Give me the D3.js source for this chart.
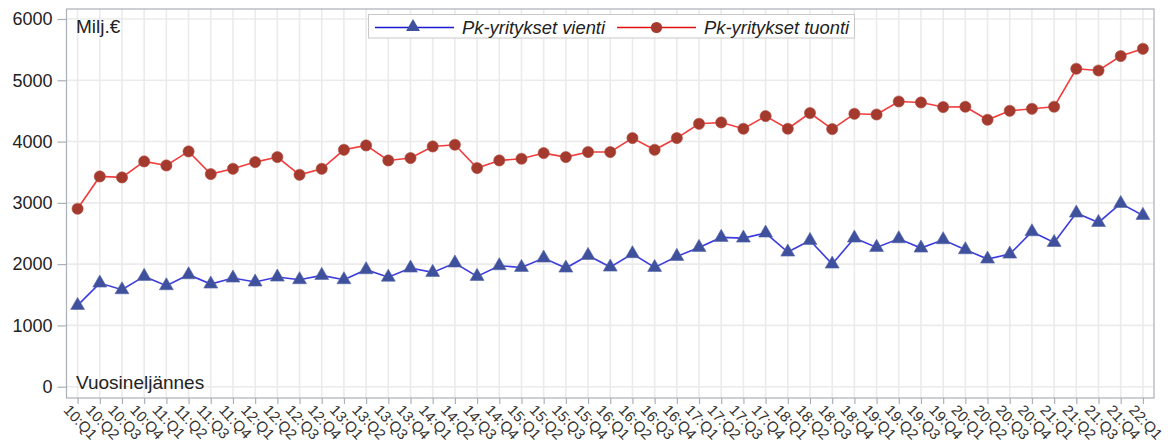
<!DOCTYPE html>
<html><head><meta charset="utf-8">
<script src="https://cdn.jsdelivr.net/npm/d3@7"></script>
<style>
body{margin:0;background:#fff;}
svg{display:block;font-family:"Liberation Sans",Arial,sans-serif;}
</style></head>
<body><svg id="c" width="1172" height="446"></svg>
<script>
const quarters = ["10:Q1","10:Q2","10:Q3","10:Q4","11:Q1","11:Q2","11:Q3","11:Q4","12:Q1","12:Q2","12:Q3","12:Q4","13:Q1","13:Q2","13:Q3","13:Q4","14:Q1","14:Q2","14:Q3","14:Q4","15:Q1","15:Q2","15:Q3","15:Q4","16:Q1","16:Q2","16:Q3","16:Q4","17:Q1","17:Q2","17:Q3","17:Q4","18:Q1","18:Q2","18:Q3","18:Q4","19:Q1","19:Q2","19:Q3","19:Q4","20:Q1","20:Q2","20:Q3","20:Q4","21:Q1","21:Q2","21:Q3","21:Q4","22:Q1"];
const vienti = [1326,1691,1582,1800,1648,1827,1675,1773,1708,1789,1746,1816,1746,1909,1787,1936,1865,2018,1800,1974,1946,2099,1936,2142,1952,2170,1946,2126,2273,2436,2425,2507,2197,2387,2001,2425,2273,2414,2262,2398,2235,2083,2164,2528,2354,2833,2680,2990,2795];
const tuonti = [2904,3431,3415,3676,3610,3839,3469,3556,3665,3747,3458,3556,3866,3937,3692,3731,3920,3948,3568,3692,3720,3812,3747,3829,3829,4057,3866,4057,4290,4312,4209,4415,4209,4465,4204,4453,4442,4654,4638,4563,4568,4356,4502,4535,4568,5188,5160,5395,5514];
const yTicks = [0,1000,2000,3000,4000,5000,6000];
const seriesNames = ["Pk-yritykset vienti","Pk-yritykset tuonti"];

const svg = d3.select("#c");
const L=66.5, R=1154, T=9, B=398;
const x = d3.scalePoint().domain(quarters).range([L,R]).padding(0.5);
const y = d3.scaleLinear().domain([0,6000]).range([386.7,19]);

// gridlines
const g = svg.append("g");
g.selectAll("line.v").data(quarters).enter().append("line")
  .attr("x1",d=>x(d)).attr("x2",d=>x(d)).attr("y1",T).attr("y2",B)
  .attr("stroke","#ebebeb").attr("stroke-width",1.6);
g.selectAll("line.h").data(yTicks).enter().append("line")
  .attr("x1",L).attr("x2",R).attr("y1",d=>y(d)).attr("y2",d=>y(d))
  .attr("stroke","#ebebeb").attr("stroke-width",1.6);

// frame
svg.append("rect").attr("x",L).attr("y",T).attr("width",R-L).attr("height",B-T)
  .attr("fill","none").attr("stroke","#aab0b6").attr("stroke-width",1.2);

// y axis
const ya = svg.append("g").attr("transform",`translate(${L},0)`)
  .call(d3.axisLeft(y).tickValues(yTicks).tickSize(9).tickPadding(5).tickFormat(d3.format("d")));
ya.select(".domain").remove();
ya.selectAll(".tick line").attr("stroke","#aab0b6").attr("stroke-width",1.2);
ya.selectAll(".tick text").attr("font-size","18px").attr("fill","#222").attr("font-family","Liberation Sans, Arial, sans-serif");

// x axis
const xa = svg.append("g").attr("transform",`translate(0,${B})`)
  .call(d3.axisBottom(x).tickSize(6).tickPadding(4));
xa.select(".domain").remove();
xa.selectAll(".tick line").attr("stroke","#aab0b6").attr("stroke-width",1.2);
xa.selectAll(".tick text").attr("font-size","15px").attr("fill","#333")
  .attr("font-family","Liberation Sans, Arial, sans-serif")
  .attr("text-anchor","start").attr("dy","0")
  .attr("transform","translate(-8,6) rotate(47)");

// labels
svg.append("text").attr("x",76).attr("y",33).attr("font-size","19px").attr("fill","#222").text("Milj.€");
svg.append("text").attr("x",76).attr("y",389).attr("font-size","19px").attr("fill","#222").text("Vuosineljännes");

// lines
const line = d3.line().x((d,i)=>x(quarters[i])).y(d=>y(d));
svg.append("path").datum(tuonti).attr("d",line).attr("fill","none").attr("stroke","#f23c3c").attr("stroke-width",1.6);
svg.append("path").datum(vienti).attr("d",line).attr("fill","none").attr("stroke","#3b3be0").attr("stroke-width",1.6);

const tri = d3.symbol().type(d3.symbolTriangle).size(84);
svg.selectAll("path.tri").data(vienti).enter().append("path")
  .attr("d",tri).attr("transform",(d,i)=>`translate(${x(quarters[i])},${y(d)})`)
  .attr("fill","#3f519c").attr("stroke","#5566aa").attr("stroke-width",0.6);
svg.selectAll("circle.dot").data(tuonti).enter().append("circle")
  .attr("cx",(d,i)=>x(quarters[i])).attr("cy",d=>y(d)).attr("r",5.6)
  .attr("fill","#a33a2d").attr("stroke","#b14e42").attr("stroke-width",0.6);

// legend
const lg = svg.append("g");
lg.append("rect").attr("x",368.5).attr("y",14.5).attr("width",486).attr("height",23.5)
  .attr("fill","#fff").attr("stroke","#c8c8c8").attr("stroke-width",1);
lg.append("line").attr("x1",375).attr("x2",454).attr("y1",27.5).attr("y2",27.5).attr("stroke","#1a1ad0").attr("stroke-width",1.4);
lg.append("path").attr("d",tri).attr("transform","translate(413,27)").attr("fill","#3f519c");
lg.append("text").attr("x",462).attr("y",33.5).attr("font-size","18.4px").attr("font-style","italic").attr("fill","#222").text(seriesNames[0]);
lg.append("line").attr("x1",617).attr("x2",696).attr("y1",27.5).attr("y2",27.5).attr("stroke","#e01010").attr("stroke-width",1.4);
lg.append("circle").attr("cx",656.5).attr("cy",27.5).attr("r",5.6).attr("fill","#a33a2d");
lg.append("text").attr("x",704).attr("y",33.5).attr("font-size","18.4px").attr("font-style","italic").attr("fill","#222").text(seriesNames[1]);
</script></body></html>
